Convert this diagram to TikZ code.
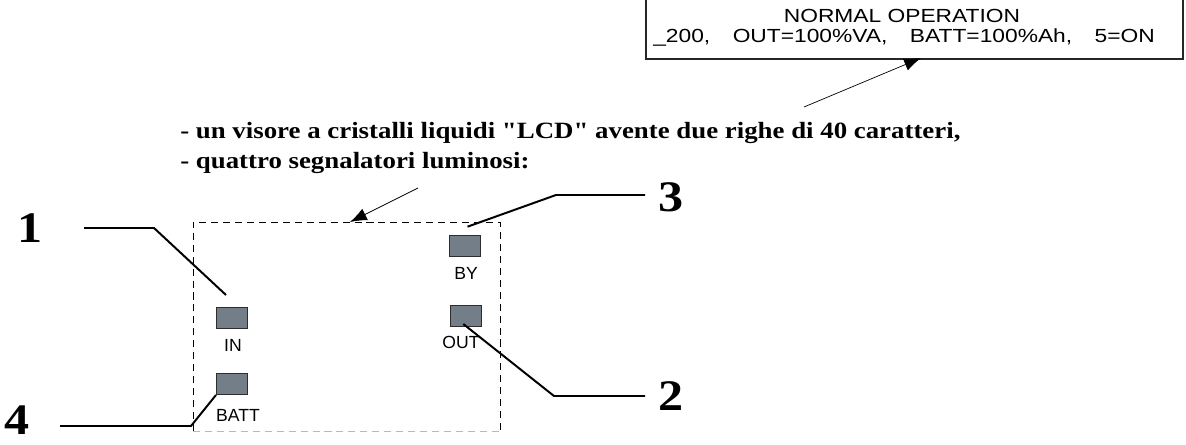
\documentclass[tikz,border=0pt]{standalone}
\usepackage{fontspec}
\setmainfont{Liberation Serif}[FakeStretch=1.15, Ligatures=TeXOff]
\newfontfamily\lcdfont{Liberation Sans}[FakeStretch=1.2]
\newfontfamily\ledfont{Liberation Sans}
\usepackage{xcolor}
\usetikzlibrary{arrows.meta, positioning}

\definecolor{ledgray}{RGB}{116,126,136}
\definecolor{ledborder}{RGB}{45,45,45}
\definecolor{dashgray}{RGB}{185,185,185}

\begin{document}
\begin{tikzpicture}[x=0.025cm, y=-0.025cm, >={Latex[length=12pt,width=9pt]},
    led/.style={draw=ledborder, line width=0.7pt, fill=ledgray, inner sep=0pt,
        minimum width=0.775cm, minimum height=0.525cm},
    ledlabel/.style={font=\ledfont\fontsize{12.5}{14}\selectfont, inner sep=0pt},
    callout/.style={font=\bfseries\fontsize{31}{36}\selectfont, inner sep=0pt},
    riga/.style={font=\bfseries\fontsize{16.6}{20}\selectfont, inner sep=0pt, anchor=base west},
    leader/.style={line width=1.4pt},
    pointer/.style={->, line width=0.5pt},
    panel/.style={dashed, dash pattern=on 5pt off 3.5pt, line width=0.6pt}]

    \useasboundingbox (0,0) rectangle (1186,445);

    % =================================================================
    % 1. VISORE LCD IN ALTO A DESTRA
    % =================================================================
    \draw[line width=0.8pt, draw=black!85] (646,-5) rectangle (1183,59);
    \node[anchor=base, font=\lcdfont\fontsize{13.5}{15}\selectfont, inner sep=0pt]
        (LcdTitolo) at (902,23) {NORMAL OPERATION};
    \node[anchor=base west, font=\lcdfont\fontsize{13.5}{15}\selectfont, inner sep=0pt]
        (LcdValori) at (653,43)
        {\_200,\hspace{16pt}OUT=100\%VA,\hspace{16pt}BATT=100\%Ah,\hspace{16pt}5=ON};

    % Freccia sottile verso il visore
    \coordinate (LcdCoda) at (804,107);
    \coordinate (LcdPunta) at (921,58);
    \draw[pointer] (LcdCoda) -- (LcdPunta);

    % =================================================================
    % 2. TESTO DESCRITTIVO
    % =================================================================
    \node[riga] (Riga1) at (180,139) {- un visore a cristalli liquidi "LCD" avente due righe di 40 caratteri,};
    \node[riga] (Riga2) at (180,169) {- quattro segnalatori luminosi:};

    % =================================================================
    % 3. PANNELLO TRATTEGGIATO E FRECCIA
    % =================================================================
    \coordinate (PanSotSin) at (193,431);
    \coordinate (PanSopSin) at (193,222);
    \coordinate (PanSopDes) at (500,222);
    \coordinate (PanSotDes) at (500,431);
    \draw[panel] (PanSotSin) -- (PanSopSin) -- (PanSopDes) -- (PanSotDes);
    \draw[panel, draw=dashgray] (PanSotSin) -- (PanSotDes);

    \coordinate (PanCoda) at (418,188);
    \coordinate (PanPunta) at (350,222);
    \draw[pointer] (PanCoda) -- (PanPunta);

    % =================================================================
    % 4. SEGNALATORI LUMINOSI E NOMI
    % =================================================================
    \node[led] (LedIn) at (232,318) {};
    \node[led] (LedBatt) at (232,384) {};
    \node[led] (LedBy) at (465,245.7) {};
    \node[led] (LedOut) at (465.5,316.3) {};

    \node[ledlabel] (NomeIn) at (233,345) {IN};
    \node[ledlabel] (NomeBatt) at (238,415) {BATT};
    \node[ledlabel] (NomeBy) at (466,273) {BY};
    \node[ledlabel] (NomeOut) at (461,342) {OUT};

    % =================================================================
    % 5. NUMERI E LINEE DI RICHIAMO
    % =================================================================
    \node[callout] (Num1) at (30,228) {1};
    \node[callout] (Num2) at (671,396) {2};
    \node[callout] (Num3) at (671,197) {3};
    \node[callout] (Num4) at (17,420) {4};

    \coordinate (Inizio1) at (84,228);
    \coordinate (Gomito1) at (154,228);
    \coordinate (Fine1) at (226,295);
    \draw[leader] (Inizio1) -- (Gomito1) -- (Fine1);

    \coordinate (Inizio2) at (645,396);
    \coordinate (Gomito2) at (554,396);
    \coordinate (Fine2) at (463.3,324);
    \draw[leader] (Inizio2) -- (Gomito2) -- (Fine2);

    \coordinate (Inizio3) at (645,195);
    \coordinate (Gomito3) at (556,195);
    \coordinate (Fine3) at (467.5,226.7);
    \draw[leader] (Inizio3) -- (Gomito3) -- (Fine3);

    \coordinate (Inizio4) at (60,426);
    \coordinate (Gomito4) at (191,426);
    \draw[leader] (Inizio4) -- (Gomito4) -- (LedBatt.south west);

\end{tikzpicture}
\end{document}
